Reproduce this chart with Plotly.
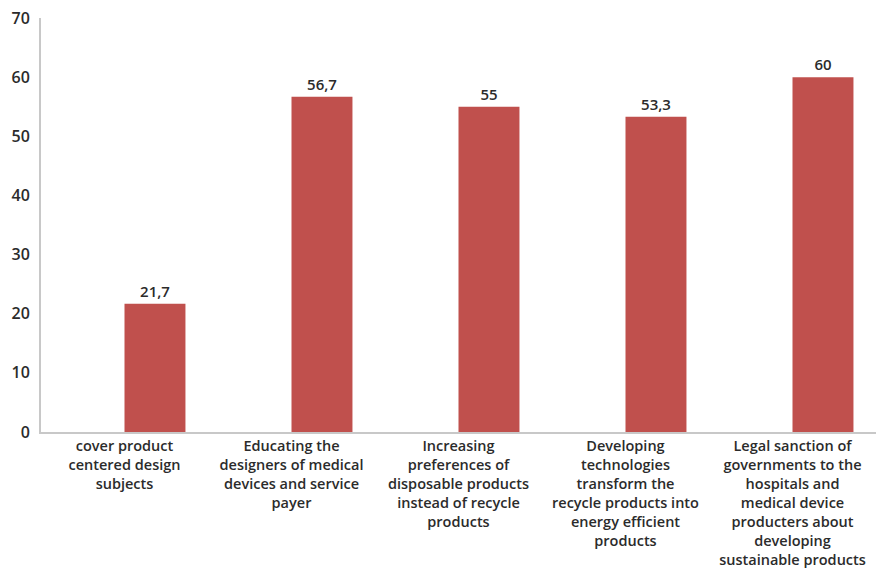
import plotly.graph_objects as go

categories = [
    "cover product<br>centered design<br>subjects",
    "Educating the<br>designers of medical<br>devices and service<br>payer",
    "Increasing<br>preferences of<br>disposable products<br>instead of recycle<br>products",
    "Developing<br>technologies<br>transform the<br>recycle products into<br>energy efficient<br>products",
    "Legal sanction of<br>governments to the<br>hospitals and<br>medical device<br>producters about<br>developing<br>sustainable products",
]
values = [21.7, 56.7, 55, 53.3, 60]
value_labels = ["21,7", "56,7", "55", "53,3", "60"]
y_ticks = [0, 10, 20, 30, 40, 50, 60, 70]

FONT = "Open Sans"
TXT = "#2b2b2b"

fig = go.Figure()
fig.add_trace(go.Bar(
    x=categories, y=values, text=value_labels, textposition="outside",
    textfont=dict(family=FONT, size=15, color=TXT, weight=600),
    marker=dict(color="#C0504D", line=dict(width=0)),
    offset=0, width=0.365, cliponaxis=False, showlegend=False,
))
fig.update_layout(
    width=880, height=571,
    margin=dict(l=41, r=4, t=18, b=139, autoexpand=False),
    paper_bgcolor="white", plot_bgcolor="white",
    font=dict(family=FONT, size=15, color=TXT, weight=600),
    xaxis=dict(showline=True, linecolor="#C8C8C8", linewidth=2, ticks="",
               tickfont=dict(family=FONT, size=14.5, color=TXT, weight=600), showgrid=False,
               range=[-0.5, 4.5], automargin=False, ticklabelstandoff=0),
    yaxis=dict(range=[0, 70], tickvals=y_ticks, showline=True, linecolor="#C8C8C8",
               linewidth=2, ticks="", showgrid=False, zeroline=False, automargin=False,
               tickfont=dict(family=FONT, size=16, color=TXT, weight=600), ticklabelstandoff=6),
)
fig.write_html("out.html")
